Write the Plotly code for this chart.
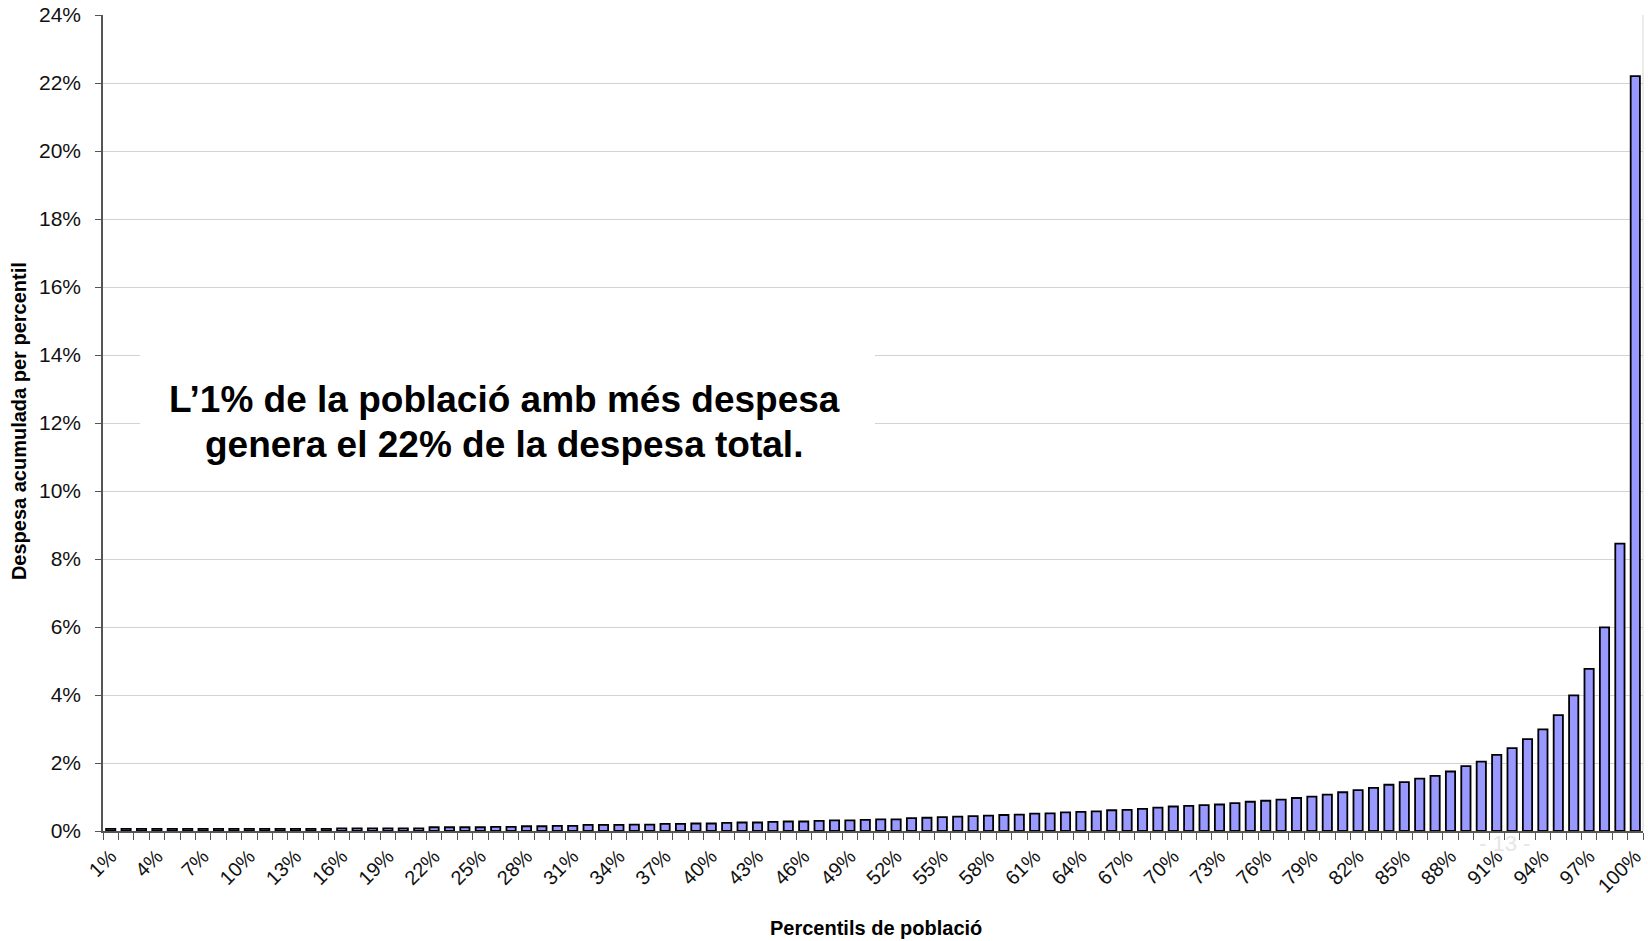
import plotly.graph_objects as go

# ---- data ----
percentiles = list(range(1, 101))
labels = [f"{p}%" for p in percentiles]

spend_share = [
    0.06, 0.06, 0.06, 0.06, 0.06, 0.06, 0.06, 0.06, 0.06, 0.06,   # 1-10
    0.06, 0.06, 0.06, 0.06, 0.06, 0.08, 0.08, 0.08, 0.08, 0.08,   # 11-20
    0.08, 0.11, 0.11, 0.11, 0.11, 0.12, 0.12, 0.14, 0.14, 0.15,   # 21-30
    0.15, 0.18, 0.18, 0.18, 0.19, 0.19, 0.21, 0.21, 0.22, 0.22,   # 31-40
    0.24, 0.25, 0.25, 0.27, 0.28, 0.28, 0.30, 0.31, 0.31, 0.33,   # 41-50
    0.34, 0.34, 0.38, 0.39, 0.41, 0.42, 0.44, 0.45, 0.47, 0.48,   # 51-60
    0.51, 0.52, 0.55, 0.56, 0.58, 0.61, 0.62, 0.65, 0.69, 0.72,   # 61-70
    0.74, 0.76, 0.78, 0.82, 0.86, 0.89, 0.92, 0.97, 1.01, 1.07,   # 71-80
    1.14, 1.20, 1.27, 1.36, 1.44, 1.54, 1.62, 1.75, 1.91, 2.04,   # 81-90
    2.24, 2.44, 2.70, 2.99, 3.41, 3.99, 4.77, 5.99, 8.45, 22.2,   # 91-100
]

y_ticks = list(range(0, 25, 2))
y_ticktext = [f"{v}%" for v in y_ticks]
x_tickvals = percentiles[::3]
x_ticktext = labels[::3]

FONT = "Arial, Liberation Sans, sans-serif"

# plot-area geometry in page pixels
L, R, T, B = 103, 1645, 15, 831
PW, PH = R - L, B - T


def px(x):
    return (x - L) / PW


def py(y):
    return (B - y) / PH


fig = go.Figure()
fig.add_trace(go.Bar(
    x=percentiles,
    y=spend_share,
    marker=dict(color="#9999FF", line=dict(color="black", width=1.8)),
    hoverinfo="x+y",
))

fig.update_layout(
    width=1648,
    height=941,
    margin=dict(l=L, r=1648 - R, t=T, b=941 - B),
    paper_bgcolor="white",
    plot_bgcolor="white",
    bargap=0.4,
    showlegend=False,
    font=dict(family=FONT, color="black"),
)

fig.update_xaxes(
    range=[0.5, 100.5],
    tickmode="array",
    tickvals=x_tickvals,
    ticktext=x_ticktext,
    tickangle=-45,
    ticks="",
    ticklabelstandoff=4,
    tickfont=dict(size=20, family=FONT, color="#111"),
    showline=True,
    linecolor="#555",
    linewidth=1.5,
    showgrid=False,
    zeroline=False,
    minor=dict(tickmode="linear", tick0=0.5, dtick=1, ticks="outside",
               ticklen=7, tickcolor="#555", tickwidth=1.2, showgrid=False),
)

fig.update_yaxes(
    range=[0, 24],
    tickmode="array",
    tickvals=y_ticks,
    ticktext=y_ticktext,
    ticks="outside",
    ticklen=6,
    tickcolor="#555",
    tickwidth=1.2,
    ticklabelstandoff=10,
    tickfont=dict(size=21, family=FONT, color="#111"),
    showline=True,
    linecolor="#555",
    linewidth=1.5,
    showgrid=True,
    gridcolor="#D3D3D3",
    gridwidth=1.3,
    zeroline=False,
)

# light plot-area border (right side)
fig.add_shape(type="line", xref="paper", yref="paper", x0=1, x1=1, y0=0, y1=1,
              line=dict(color="#DDDDDD", width=1.2), layer="below")

# white text box
fig.add_shape(type="rect", xref="paper", yref="paper",
              x0=px(140), x1=px(876), y0=py(476), y1=py(345),
              fillcolor="white", line=dict(width=0), layer="above")

fig.add_annotation(text="<b>L’1% de la població amb més despesa</b>",
                   xref="paper", yref="paper", x=px(505), y=py(399),
                   xanchor="center", yanchor="middle", showarrow=False,
                   font=dict(size=37, family=FONT, color="black"))
fig.add_annotation(text="<b>genera el 22% de la despesa total.</b>",
                   xref="paper", yref="paper", x=px(505), y=py(444),
                   xanchor="center", yanchor="middle", showarrow=False,
                   font=dict(size=37, family=FONT, color="black"))

# axis titles
fig.add_annotation(text="<b>Percentils de població</b>",
                   xref="paper", yref="paper", x=px(877), y=py(928),
                   xanchor="center", yanchor="middle", showarrow=False,
                   font=dict(size=20, family=FONT, color="black"))
fig.add_annotation(text="<b>Despesa acumulada per percentil</b>",
                   xref="paper", yref="paper", x=px(19), y=py(421),
                   xanchor="center", yanchor="middle", showarrow=False,
                   textangle=-90,
                   font=dict(size=20, family=FONT, color="black"))

# faint page number watermark
fig.add_annotation(text="- 13 -", xref="paper", yref="paper",
                   x=px(1506), y=py(843),
                   xanchor="center", yanchor="middle", showarrow=False,
                   font=dict(size=22, family=FONT, color="#E6E6E6"))

fig.write_html("out.html",
               config={"displayModeBar": False},
               post_script="document.body.style.margin='0';"
                           "document.body.style.overflow='hidden';")
